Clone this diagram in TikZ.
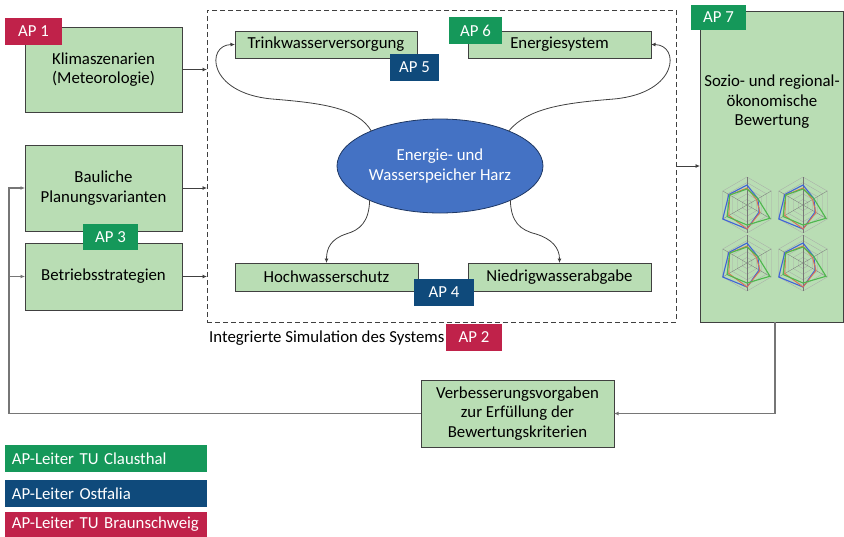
\documentclass[tikz,border=0pt]{standalone}
\usepackage{fontspec}
\setmainfont{Carlito}
\usetikzlibrary{arrows.meta,shapes.geometric}
\definecolor{boxgreen}{HTML}{B9DDB4}
\definecolor{boxborder}{HTML}{404040}
\definecolor{apgreen}{HTML}{15985A}
\definecolor{apblue}{HTML}{0F4A7B}
\definecolor{apred}{HTML}{C0224A}
\definecolor{ellblue}{HTML}{4472C4}
\definecolor{ellborder}{HTML}{1F3864}
\definecolor{linegray}{HTML}{404040}
\definecolor{fbgray}{HTML}{767676}
\definecolor{gridgray}{HTML}{A8A8A8}
\definecolor{radblue}{HTML}{3F63D8}
\definecolor{radred}{HTML}{E07050}
\definecolor{radgreen}{HTML}{4DB84D}
\newcommand\myradar[1]{%
\begin{scope}[shift={#1},yscale=-1]
 \foreach \rr in {5.6,11.2,16.8,22.4,28}
   \draw[gridgray,line width=0.3pt] (90:\rr) -- (30:\rr) -- (-30:\rr) -- (-90:\rr) -- (-150:\rr) -- (150:\rr) -- cycle;
 \foreach \a in {90,30,-30,-90,-150,150}
   \draw[gridgray!70!black,line width=0.3pt] (0,0) -- (\a:28);
 \draw[radblue,line width=1.1pt] (90:20) -- (30:12.6) -- (-30:14) -- (-90:24) -- (-150:28) -- (150:21) -- cycle;
 \draw[radred,line width=0.9pt] (90:17) -- (30:11) -- (-30:15) -- (-90:24) -- (-150:21) -- (150:20) -- cycle;
 \draw[radgreen,line width=1.1pt] (90:16) -- (30:12.6) -- (-30:26.5) -- (-90:20) -- (-150:23) -- (150:20) -- cycle;
\end{scope}}
\begin{document}
\begin{tikzpicture}[x=1pt,y=-1pt,font=\fontsize{16.8}{19.5}\selectfont,
  box/.style={draw=boxborder,fill=boxgreen,line width=1pt,inner sep=0pt,outer sep=0pt,align=center,text=black},
  aplabel/.style={inner sep=0pt,outer sep=0pt,text=white,minimum height=27},
  legendbox/.style={inner xsep=7pt,inner ysep=0pt,outer sep=0pt,text=white,text width=188pt,align=left,minimum height=27},
  arr/.style={draw=linegray,line width=0.8pt,-{Latex[length=4.5pt,width=4pt]}},
  fb/.style={draw=fbgray,line width=1.2pt},
  fbarr/.style={fb,-{Latex[length=4.5pt,width=4pt]}}]
\useasboundingbox (0,0) rectangle (844,536);

% simulation frame
\node[draw=boxborder,dashed,dash pattern=on 5pt off 3pt,line width=1pt,inner sep=0pt,outer sep=0pt,
      minimum width=469,minimum height=312] (sim) at (441.5,166) {};

% left boxes
\node[box,minimum width=157,minimum height=85] (klima) at (103.5,69.5) {Klimaszenarien\\(Meteorologie)};
\node[box,minimum width=157,minimum height=86] (bau) at (103.5,188) {Bauliche\\Planungsvarianten};
\node[box,minimum width=157,minimum height=67] (betr) at (103.5,276.5) {Betriebsstrategien};

% inner boxes
\node[box,minimum width=182,minimum height=27] (tw) at (326,44.5) {Trinkwasserversorgung};
\node[box,minimum width=183,minimum height=27] (es) at (559.5,44.5) {Energiesystem};
\node[box,minimum width=183,minimum height=28] (hw) at (326.5,277) {Hochwasserschutz};
\node[box,minimum width=183,minimum height=28] (nw) at (559.5,277) {Niedrigwasserabgabe};
\node[ellipse,draw=ellborder,fill=ellblue,line width=0.8pt,minimum width=206,minimum height=94,
      inner sep=0pt,outer sep=0pt,text=white,align=center] (ell) at (440,166) {Energie- und\\Wasserspeicher Harz};

% right box
\node[box,minimum width=143,minimum height=311] (bew) at (771.5,166.5) {};
\node[align=center,inner sep=0pt] (beweText) at (772,102) {Sozio- und regional-\\ökonomische\\Bewertung};
\myradar{(747,205)}
\myradar{(803,205)}
\myradar{(747,263)}
\myradar{(803,263)}

% bottom box
\node[box,minimum width=193,minimum height=67] (verb) at (517.5,413.5) {Verbesserungsvorgaben\\zur Erfüllung der\\Bewertungskriterien};

% caption
\node[anchor=west,inner sep=0pt] (simtext) at (209,338) {Integrierte Simulation des Systems};

% AP labels
\node[aplabel,fill=apred,minimum width=57] (ap1) at (33.5,31.5) {AP 1};
\node[aplabel,fill=apgreen,minimum width=55,minimum height=26] (ap3) at (110.5,237) {AP 3};
\node[aplabel,fill=apblue,minimum width=49] (ap5) at (414.5,67.5) {AP 5};
\node[aplabel,fill=apgreen,minimum width=53] (ap6) at (475.5,30.5) {AP 6};
\node[aplabel,fill=apblue,minimum width=60] (ap4) at (444,292.5) {AP 4};
\node[aplabel,fill=apred,minimum width=56] (ap2) at (474,337.5) {AP 2};
\node[aplabel,fill=apgreen,minimum width=55,minimum height=25] (ap7) at (718.5,17.5) {AP 7};

% legend
\node[legendbox,fill=apgreen,anchor=north west] (lg1) at (5,445) {AP-Leiter TU Clausthal};
\node[legendbox,fill=apblue,anchor=north west] (lg2) at (5,480) {AP-Leiter Ostfalia};
\node[legendbox,fill=apred,anchor=north west,minimum height=25] (lg3) at (5,512) {AP-Leiter TU Braunschweig};

% connectors into the simulation frame
\draw[arr] (klima.east) -- (klima.east -| sim.west);
\draw[arr] (bau.east) -- (bau.east -| sim.west);
\draw[arr] (betr.east) -- (betr.east -| sim.west);
\draw[arr] (sim.east) -- (sim.east -| bew.west);

% curved connectors from the reservoir
\draw[arr] (ell.153) .. controls (358,108) and (322,103) .. (272,99)
           .. controls (207,93) and (206,45) .. (tw.west);
\draw[arr] (ell.27) .. controls (528,108) and (564,103) .. (614,99)
           .. controls (679,93) and (680,45) .. (es.east);
\draw[arr] (ell.206) .. controls (369,222) and (360,230) .. (346,234)
           .. controls (331,239) and (326.5,248) .. (hw.north);
\draw[arr] (ell.334) .. controls (511,222) and (520,230) .. (536,234)
           .. controls (552,239) and (559.5,248) .. (nw.north);

% feedback loop
\coordinate (fbl) at (9,413.5);
\coordinate (fbr) at (775,322);
\draw[fbarr] (fbr) |- (verb.east);
\draw[fbarr] (verb.west) -- (verb.west -| fbl) |- (bau.west);
\draw[fbarr] (betr.west -| fbl) -- (betr.west);
\end{tikzpicture}
\end{document}
